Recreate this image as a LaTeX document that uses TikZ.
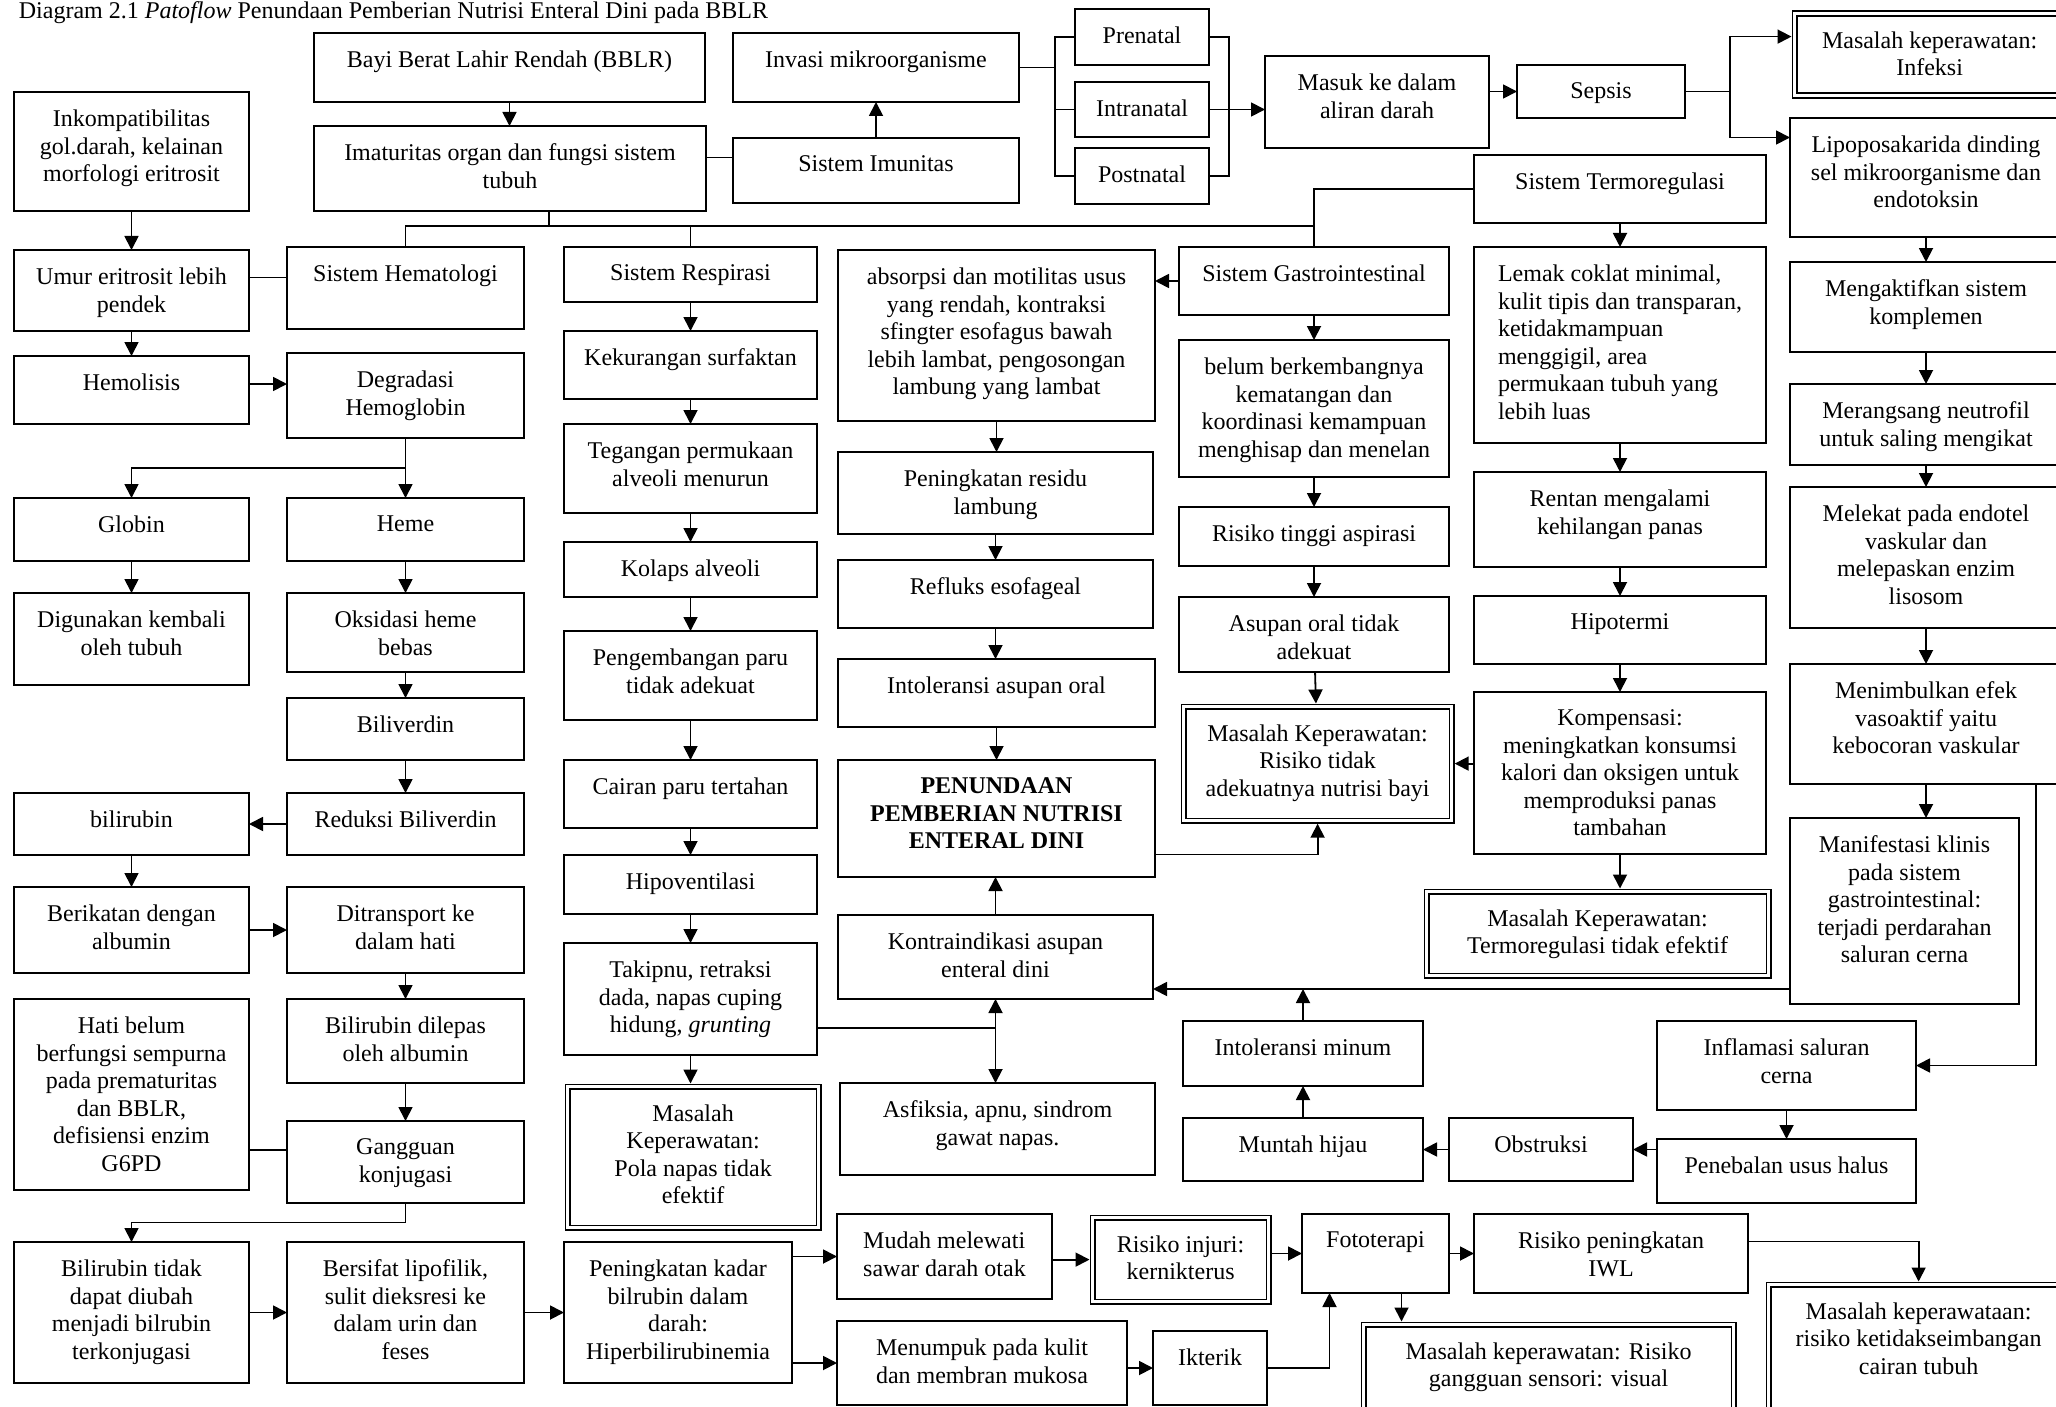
\documentclass[tikz,border=0pt]{standalone}
\usepackage{fontspec}
\setmainfont{Liberation Serif}
\usetikzlibrary{arrows.meta,calc}
\tikzset{
  every picture/.style={line width=1.8pt, font=\fontsize{24}{27.5}\selectfont},
  box/.style={draw, rectangle, anchor=north west, inner sep=0pt, outer sep=0pt},
  dbox/.style={box, double, double distance=3.2pt, line width=1.5pt, outer sep=3.1pt},
  sz/.style 2 args={minimum width=#1pt, minimum height=#2pt},
  txt/.style={anchor=north, align=center, inner sep=0pt, yshift=-17pt},
  ltxt/.style={txt, align=left},
  dtxt/.style={txt, yshift=-3pt},
  arr/.style={-{Triangle[length=14pt,width=14pt]}},
  arrs/.style={{Triangle[length=14pt,width=14pt]}-{Triangle[length=14pt,width=14pt]}},
}
\begin{document}
\begin{tikzpicture}[x=1pt, y=-1pt]
  \path[use as bounding box, fill=white] (0,0) rectangle (2056,1407);
  % caption line at the top edge
  \node[anchor=base west, inner sep=0pt] (title) at (18,19) {Diagram 2.1 \textit{Patoflow} Penundaan Pemberian Nutrisi Enteral Dini pada BBLR};

  % top row
  \node[box, sz={391}{69}, label={[txt]north:{Bayi Berat Lahir Rendah (BBLR)}}] (bblr) at (314,33) {};
  \node[box, sz={392}{85}, label={[txt]north:{Imaturitas organ dan fungsi sistem\\tubuh}}] (imat) at (314,126) {};
  \node[box, sz={286}{69}, label={[txt]north:{Invasi mikroorganisme}}] (invasi) at (733,33) {};
  \node[box, sz={286}{65}, label={[txt]north:{Sistem Imunitas}}] (imun) at (733,138) {};
  \node[box, sz={134}{56}, label={[txt]north:{Prenatal}}] (prenat) at (1075,9) {};
  \node[box, sz={134}{55}, label={[txt]north:{Intranatal}}] (intra) at (1075,82) {};
  \node[box, sz={134}{56}, label={[txt]north:{Postnatal}}] (postnat) at (1075,148) {};
  \node[box, sz={224}{92}, label={[txt]north:{Masuk ke dalam\\aliran darah}}] (masuk) at (1265,56) {};
  \node[box, sz={168}{53}, label={[txt]north:{Sepsis}}] (sepsis) at (1517,65) {};
  \node[dbox, sz={270}{82}, label={[dtxt]north:{Masalah keperawatan:\\Infeksi}}] (infeksi) at (1791.5,10.5) {};

  % hematologi, two columns
  \node[box, sz={235}{119}, label={[txt]north:{Inkompatibilitas\\gol.darah, kelainan\\morfologi eritrosit}}] (inkomp) at (14,92) {};
  \node[box, sz={235}{81}, label={[txt]north:{Umur eritrosit lebih\\pendek}}] (umur) at (14,250) {};
  \node[box, sz={235}{68}, label={[txt]north:{Hemolisis}}] (hemol) at (14,356) {};
  \node[box, sz={235}{63}, label={[txt]north:{Globin}}] (globin) at (14,498) {};
  \node[box, sz={235}{92}, label={[txt]north:{Digunakan kembali\\oleh tubuh}}] (digun) at (14,593) {};
  \node[box, sz={235}{62}, label={[txt]north:{bilirubin}}] (bilir) at (14,793) {};
  \node[box, sz={235}{86}, label={[txt]north:{Berikatan dengan\\albumin}}] (berik) at (14,887) {};
  \node[box, sz={235}{191}, label={[txt]north:{Hati belum\\berfungsi sempurna\\pada prematuritas\\dan BBLR,\\defisiensi enzim\\G6PD}}] (hati) at (14,999) {};
  \node[box, sz={235}{141}, label={[txt]north:{Bilirubin tidak\\dapat diubah\\menjadi bilrubin\\terkonjugasi}}] (biltdk) at (14,1242) {};

  \node[box, sz={237}{82}, label={[txt]north:{Sistem Hematologi}}] (hema) at (287,247) {};
  \node[box, sz={237}{85}, label={[txt]north:{Degradasi\\Hemoglobin}}] (degr) at (287,353) {};
  \node[box, sz={237}{63}, label={[txt]north:{Heme}}] (heme) at (287,498) {};
  \node[box, sz={237}{79}, label={[txt]north:{Oksidasi heme\\bebas}}] (oksid) at (287,593) {};
  \node[box, sz={237}{62}, label={[txt]north:{Biliverdin}}] (biliv) at (287,698) {};
  \node[box, sz={237}{62}, label={[txt]north:{Reduksi Biliverdin}}] (reduk) at (287,793) {};
  \node[box, sz={237}{86}, label={[txt]north:{Ditransport ke\\dalam hati}}] (ditrans) at (287,887) {};
  \node[box, sz={237}{84}, label={[txt]north:{Bilirubin dilepas\\oleh albumin}}] (dilepas) at (287,999) {};
  \node[box, sz={237}{82}, label={[txt]north:{Gangguan\\konjugasi}}] (gangg) at (287,1121) {};
  \node[box, sz={237}{141}, label={[txt]north:{Bersifat lipofilik,\\sulit dieksresi ke\\dalam urin dan\\feses}}] (bersif) at (287,1242) {};

  % respirasi
  \node[box, sz={253}{55}, label={[txt]north:{Sistem Respirasi}}] (resp) at (564,247) {};
  \node[box, sz={253}{68}, label={[txt]north:{Kekurangan surfaktan}}] (kurang) at (564,331) {};
  \node[box, sz={253}{89}, label={[txt]north:{Tegangan permukaan\\alveoli menurun}}] (tegang) at (564,424) {};
  \node[box, sz={253}{55}, label={[txt]north:{Kolaps alveoli}}] (kolaps) at (564,542) {};
  \node[box, sz={253}{89}, label={[txt]north:{Pengembangan paru\\tidak adekuat}}] (kembang) at (564,631) {};
  \node[box, sz={253}{68}, label={[txt]north:{Cairan paru tertahan}}] (cairp) at (564,760) {};
  \node[box, sz={253}{59}, label={[txt]north:{Hipoventilasi}}] (hipov) at (564,855) {};
  \node[box, sz={253}{112}, label={[txt]north:{Takipnu, retraksi\\dada, napas cuping\\hidung, \textit{grunting}}}] (takip) at (564,943) {};
  \node[dbox, sz={251}{141}, label={[dtxt]north:{Masalah\\Keperawatan:\\Pola napas tidak\\efektif}}] (polan) at (564.5,1083.5) {};
  \node[box, sz={228}{141}, label={[txt]north:{Peningkatan kadar\\bilrubin dalam\\darah:\\Hiperbilirubinemia}}] (hiper) at (564,1242) {};

  % gastrointestinal
  \node[box, sz={317}{171}, label={[txt]north:{absorpsi dan motilitas usus\\yang rendah, kontraksi\\sfingter esofagus bawah\\lebih lambat, pengosongan\\lambung yang lambat}}] (absorp) at (838,250) {};
  \node[box, sz={315}{82}, label={[txt]north:{Peningkatan residu\\lambung}}] (residu) at (838,452) {};
  \node[box, sz={315}{68}, label={[txt]north:{Refluks esofageal}}] (refluks) at (838,560) {};
  \node[box, sz={317}{68}, label={[txt]north:{Intoleransi asupan oral}}] (intol) at (838,659) {};
  \node[box, sz={317}{117}, label={[txt]north:{\textbf{PENUNDAAN}\\\textbf{PEMBERIAN NUTRISI}\\\textbf{ENTERAL DINI}}}] (penund) at (838,760) {};
  \node[box, sz={315}{84}, label={[txt]north:{Kontraindikasi asupan\\enteral dini}}] (kontra) at (838,915) {};
  \node[box, sz={315}{92}, label={[txt]north:{Asfiksia, apnu, sindrom\\gawat napas.}}] (asfik) at (840,1083) {};

  \node[box, sz={270}{68}, label={[txt]north:{Sistem Gastrointestinal}}] (gastro) at (1179,247) {};
  \node[box, sz={270}{137}, label={[txt]north:{belum berkembangnya\\kematangan dan\\koordinasi kemampuan\\menghisap dan menelan}}] (belum) at (1179,340) {};
  \node[box, sz={270}{59}, label={[txt]north:{Risiko tinggi aspirasi}}] (aspir) at (1179,507) {};
  \node[box, sz={270}{75}, label={[txt]north:{Asupan oral tidak\\adekuat}}] (asupan) at (1179,597) {};
  \node[dbox, sz={268}{114}, label={[dtxt]north:{Masalah Keperawatan:\\Risiko tidak\\adekuatnya nutrisi bayi}}] (nutri) at (1180.5,703.5) {};
  \node[box, sz={240}{65}, label={[txt]north:{Intoleransi minum}}] (intolmin) at (1183,1021) {};
  \node[box, sz={240}{63}, label={[txt]north:{Muntah hijau}}] (muntah) at (1183,1118) {};
  \node[box, sz={184}{63}, label={[txt]north:{Obstruksi}}] (obstr) at (1449,1118) {};

  % termoregulasi
  \node[box, sz={292}{68}, label={[txt]north:{Sistem Termoregulasi}}] (termo) at (1474,155) {};
  \node[box, sz={292}{196}, label={[ltxt]north:{Lemak coklat minimal,\\kulit tipis dan transparan,\\ketidakmampuan\\menggigil, area\\permukaan tubuh yang\\lebih luas}}] (lemak) at (1474,247) {};
  \node[box, sz={292}{95}, label={[txt]north:{Rentan mengalami\\kehilangan panas}}] (rentan) at (1474,472) {};
  \node[box, sz={292}{68}, label={[txt]north:{Hipotermi}}] (hipot) at (1474,596) {};
  \node[box, sz={292}{162}, label={[txt]north:{Kompensasi:\\meningkatkan konsumsi\\kalori dan oksigen untuk\\memproduksi panas\\tambahan}}] (kompens) at (1474,692) {};
  \node[dbox, sz={342}{84}, label={[dtxt]north:{Masalah Keperawatan:\\Termoregulasi tidak efektif}}] (termoreg) at (1423.5,888.5) {};

  % sepsis chain on the right
  \node[box, sz={272}{119}, label={[txt]north:{Lipoposakarida dinding\\sel mikroorganisme dan\\endotoksin}}] (lipo) at (1790,118) {};
  \node[box, sz={272}{90}, label={[txt]north:{Mengaktifkan sistem\\komplemen}}] (kompl) at (1790,262) {};
  \node[box, sz={272}{81}, label={[txt]north:{Merangsang neutrofil\\untuk saling mengikat}}] (merang) at (1790,384) {};
  \node[box, sz={272}{141}, label={[txt]north:{Melekat pada endotel\\vaskular dan\\melepaskan enzim\\lisosom}}] (melekat) at (1790,487) {};
  \node[box, sz={272}{120}, label={[txt]north:{Menimbulkan efek\\vasoaktif yaitu\\kebocoran vaskular}}] (menimb) at (1790,664) {};
  \node[box, sz={229}{186}, label={[txt]north:{Manifestasi klinis\\pada sistem\\gastrointestinal:\\terjadi perdarahan\\saluran cerna}}] (manif) at (1790,818) {};
  \node[box, sz={259}{89}, label={[txt]north:{Inflamasi saluran\\cerna}}] (inflam) at (1657,1021) {};
  \node[box, sz={259}{64}, label={[txt]north:{Penebalan usus halus}}] (peneb) at (1657,1139) {};

  % bilirubin row at the bottom
  \node[box, sz={215}{85}, label={[ltxt]north:{Mudah melewati\\sawar darah otak}}] (mudah) at (837,1214) {};
  \node[box, sz={290}{84}, label={[txt]north:{Menumpuk pada kulit\\dan membran mukosa}}] (menump) at (837,1321) {};
  \node[dbox, sz={176}{84}, label={[dtxt]north:{Risiko injuri:\\kernikterus}}] (injuri) at (1089.5,1214.5) {};
  \node[box, sz={114}{74}, label={[txt]north:{Ikterik}}] (ikter) at (1153,1331) {};
  \node[box, sz={147}{79}, label={[txt]north:{Fototerapi}}] (foto) at (1302,1214) {};
  \node[dbox, sz={370}{86}, label={[dtxt]north:{Masalah keperawatan: Risiko\\gangguan sensori: visual}}] (sensori) at (1360.5,1321.5) {};
  \node[box, sz={274}{79}, label={[txt]north:{Risiko peningkatan\\IWL}}] (iwl) at (1474,1214) {};
  \node[dbox, sz={300}{130}, label={[dtxt]north:{Masalah keperawataan:\\risiko ketidakseimbangan\\cairan tubuh}}] (cairan) at (1765.5,1281.5) {};

  % connectors: top
  \draw[arr] (bblr.south) -- (bblr.south |- imat.north);
  \draw ([yshift=11pt]imat.east) -- ([yshift=11pt]imat.east -| imun.west);
  \draw[arr] (imun) -- (invasi);
  \coordinate (lbr) at (1055,0);
  \coordinate (rbr) at (1229,0);
  \draw (prenat.west) -- (prenat.west -| lbr) -- (postnat.west -| lbr) -- (postnat.west);
  \draw (intra.west) -- (intra.west -| lbr);
  \draw (invasi.east) -- (invasi.east -| lbr);
  \draw (prenat.east) -- (prenat.east -| rbr) -- (postnat.east -| rbr) -- (postnat.east);
  \draw[arr] (intra.east) -- (intra.east -| masuk.west);
  \draw[arr] (masuk.east |- sepsis.west) -- (sepsis.west);
  \coordinate (sbr) at (1730,0);
  \draw[arr] (sepsis.east) -- (sepsis.east -| sbr) |- ([yshift=18pt]infeksi.west);
  \draw[arr] (sepsis.east -| sbr) |- ([yshift=40pt]lipo.west);

  % the organ systems hang from one bus
  \coordinate (bus) at (0,226);
  \draw ([xshift=39pt]imat.south) -- ([xshift=39pt]imat.south |- bus);
  \draw (hema.north) -- (hema.north |- bus) -- (bus -| gastro.north);
  \draw (resp.north) -- (resp.north |- bus);
  \draw (termo.west) -| (gastro.north);

  % hematologi
  \draw[arr] (inkomp) -- (umur);
  \draw ([yshift=13pt]umur.east) -- ([yshift=13pt]umur.east -| hema.west);
  \draw[arr] (umur) -- (hemol);
  \draw[arr] ([yshift=6pt]hemol.east) -- ([yshift=6pt]hemol.east -| degr.west);
  \draw[arr] (degr) -- (heme);
  \draw[arr] ($(degr.south)!0.5!(heme.north)$) -| (globin.north);
  \draw[arr] (globin) -- (digun);
  \draw[arr] (heme) -- (oksid);
  \draw[arr] (oksid) -- (biliv);
  \draw[arr] (biliv) -- (reduk);
  \draw[arr] (reduk) -- (bilir);
  \draw[arr] (bilir) -- (berik);
  \draw[arr] (berik) -- (ditrans);
  \draw[arr] (ditrans) -- (dilepas);
  \draw[arr] (dilepas) -- (gangg);
  \draw ([yshift=12pt]gangg.west) -- ([yshift=12pt]gangg.west -| hati.east);
  \draw[arr] (gangg.south) |- ($(gangg.south)!0.5!(biltdk.north)$) -| (biltdk.north);
  \draw[arr] (biltdk) -- (bersif);
  \draw[arr] (bersif) -- (hiper);

  % respirasi
  \draw[arr] (resp) -- (kurang);
  \draw[arr] (kurang) -- (tegang);
  \draw[arr] (tegang) -- (kolaps);
  \draw[arr] (kolaps) -- (kembang);
  \draw[arr] (kembang) -- (cairp);
  \draw[arr] (cairp) -- (hipov);
  \draw[arr] (hipov) -- (takip);
  \draw[arr] (takip.south) -- (takip.south |- polan.north);
  \draw[arrs] (kontra.south) -- (kontra.south |- asfik.north);
  \coordinate (tk) at ([yshift=-29pt]takip.east -| kontra.south);
  \draw ([yshift=-29pt]takip.east) -- (tk);

  % gastrointestinal
  \draw[arr] (gastro.west) -- (gastro.west -| absorp.east);
  \draw[arr] (absorp.south) -- (absorp.south |- residu.north);
  \draw[arr] (residu) -- (refluks);
  \draw[arr] (refluks.south) -- (refluks.south |- intol.north);
  \draw[arr] (intol) -- (penund);
  \draw[arr] (kontra.north) -- (kontra.north |- penund.south);
  \draw[arr] ([yshift=-36pt]penund.east) -| (nutri.south);
  \draw[arr] (gastro) -- (belum);
  \draw[arr] (belum) -- (aspir);
  \draw[arr] (aspir) -- (asupan);
  \draw[arr] (asupan) -- (nutri);
  \draw[arr] (kompens.west |- nutri.east) -- (nutri.east);

  % termoregulasi
  \draw[arr] (termo) -- (lemak);
  \draw[arr] (lemak) -- (rentan);
  \draw[arr] (rentan) -- (hipot);
  \draw[arr] (hipot) -- (kompens);
  \draw[arr] (kompens.south) -- (kompens.south |- termoreg.north);

  % sepsis
  \draw[arr] (lipo) -- (kompl);
  \draw[arr] (kompl) -- (merang);
  \draw[arr] (merang) -- (melekat);
  \draw[arr] (melekat) -- (menimb);
  \draw[arr] (menimb.south) -- (menimb.south |- manif.north);
  \draw[arr] ([xshift=110pt]menimb.south) |- (inflam.east);
  \draw[arr] (inflam.south) -- (inflam.south |- peneb.north);
  \draw[arr] (peneb.west |- obstr.east) -- (obstr.east);
  \draw[arr] (obstr) -- (muntah);
  \draw[arr] (muntah) -- (intolmin);
  \coordinate (kin) at ([yshift=-32pt]kontra.east);
  \draw[arr] (manif.west |- kin) -- (kin);
  \draw[arr] (intolmin) -- (intolmin |- kin);

  % bilirubin row
  \draw[arr] (hiper.east |- mudah.west) -- (mudah.west);
  \draw[arr] (hiper.east |- menump.west) -- (menump.west);
  \draw[arr] (mudah.east |- injuri.west) -- (injuri.west);
  \draw[arr] (injuri.east |- foto.west) -- (foto.west);
  \draw[arr] (foto) -- (iwl);
  \draw[arr] ([xshift=26pt]foto.south) -- ([xshift=26pt]foto.south |- sensori.north);
  \draw[arr] (menump.east |- ikter.west) -- (ikter.west);
  \draw[arr] (ikter.east) -| ([xshift=-46pt]foto.south);
  \draw[arr] ([yshift=12pt]iwl.east) -| (cairan.north);
\end{tikzpicture}
\end{document}
